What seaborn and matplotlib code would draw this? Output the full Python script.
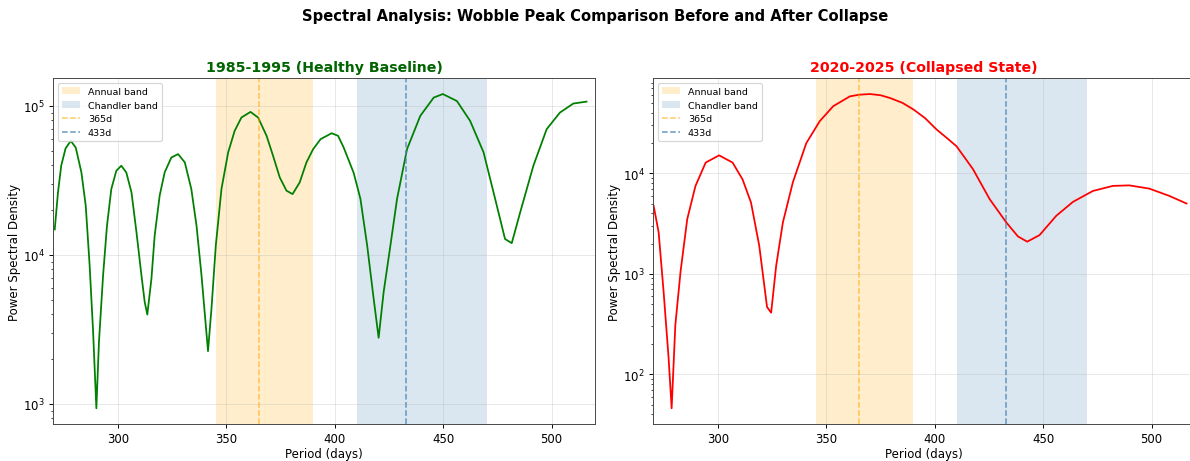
import numpy as np
import pandas as pd
import matplotlib
matplotlib.use("Agg")
import matplotlib.pyplot as plt
import seaborn as sns

# ---- data ----
healthy_period = [270.8, 272.3, 273.8, 275.8, 278.2, 280.5, 283.1, 285.1, 286.9, 288.5,
                  290.0, 291.2, 293.1, 294.9, 296.9, 299.2, 301.5, 303.8, 306.2, 308.5,
                  310.8, 312.3, 313.5, 315.4, 316.9, 319.2, 321.5, 324.6, 327.7, 330.8,
                  333.8, 336.2, 338.5, 341.5, 343.1, 345.1, 347.7, 350.8, 353.8, 356.9,
                  361.1, 364.6, 368.5, 371.5, 374.6, 377.7, 380.5, 383.8, 386.9, 390.0,
                  393.4, 398.5, 401.5, 404.1, 408.7, 411.8, 414.9, 417.9, 420.2, 422.5,
                  425.6, 428.7, 433.3, 439.4, 445.6, 449.8, 456.3, 462.4, 468.6, 473.2,
                  478.5, 481.6, 485.4, 491.6, 497.7, 503.8, 510.0, 516.1]
healthy_psd = [14830, 26300, 39800, 51900, 58300, 52500, 35800, 21400, 8510, 3050,
               935, 2610, 7290, 15700, 27700, 36700, 39700, 35800, 26300, 14200,
               7290, 4830, 3980, 6920, 13500, 25000, 35800, 45100, 47500, 41800,
               27700, 15700, 7290, 2260, 4370, 11600, 27700, 48800, 68100, 83600,
               91200, 83600, 63100, 46300, 33100, 27000, 25600, 30700, 41800, 51300,
               59800, 65600, 63000, 52500, 35500, 23800, 11600, 5090, 2780, 5620,
               11500, 23800, 51300, 85700, 113800, 120200, 107900, 79400, 48800, 26300,
               12800, 12000, 19100, 39800, 69800, 90200, 103800, 106900]

collapsed_period = [270.3, 272.6, 274.9, 277.2, 278.6, 280.3, 282.7, 285.8, 289.6, 294.3,
                    300.5, 306.7, 311.3, 315.2, 319.0, 322.6, 324.5, 326.8, 329.9, 334.5,
                    340.7, 346.9, 353.1, 360.8, 365.0, 370.1, 375.0, 379.4, 385.0, 390.2,
                    395.5, 400.8, 405.5, 410.0, 417.6, 425.3, 433.0, 438.3, 442.6, 448.3,
                    456.0, 463.7, 472.9, 482.1, 489.7, 498.9, 508.1, 516.1]
collapsed_psd = [4750, 2590, 661, 145, 46, 309, 1050, 3510, 7500, 12800,
                 15100, 12800, 8710, 5130, 1910, 468, 411, 1200, 3240, 8130,
                 19950, 33000, 46500, 58300, 60500, 61500, 59800, 56100, 50300, 43100,
                 35400, 27300, 22500, 18600, 11000, 5530, 3240, 2360, 2090, 2430,
                 3780, 5200, 6680, 7500, 7590, 7050, 5970, 5010]

annual_band = (345, 390)
chandler_band = (410, 470)
annual_period = 365
chandler_period = 433

panel_titles = ["1985-1995 (Healthy Baseline)", "2020-2025 (Collapsed State)"]
title_colors = ["darkgreen", "red"]
line_colors = ["green", "red"]
suptitle = "Spectral Analysis: Wobble Peak Comparison Before and After Collapse"

# ---- plotting ----
plt.rcParams['font.family'] = ['DejaVu Sans']

fig = plt.figure(figsize=(14, 5.435), dpi=85)
W, H = 1190, 462
ax1 = fig.add_axes([53 / W, 1 - 425 / H, 542 / W, (425 - 79.3) / H])
ax2 = fig.add_axes([653 / W, 1 - 425 / H, 542 / W, (425 - 79.3) / H])

datasets = [
    pd.DataFrame({"period": healthy_period, "psd": healthy_psd}),
    pd.DataFrame({"period": collapsed_period, "psd": collapsed_psd}),
]

for ax, df, ttl, tcol, lcol in zip([ax1, ax2], datasets, panel_titles, title_colors, line_colors):
    sns.lineplot(data=df, x="period", y="psd", ax=ax, color=lcol, linewidth=1.5)
    ax.set_yscale("log")
    ax.axvspan(*annual_band, color="orange", alpha=0.2, label="Annual band", lw=0)
    ax.axvspan(*chandler_band, color="steelblue", alpha=0.2, label="Chandler band", lw=0)
    ax.axvline(annual_period, color="orange", linestyle="--", alpha=0.6, lw=1.3, label=f"{annual_period}d")
    ax.axvline(chandler_period, color="steelblue", linestyle="--", alpha=0.8, lw=1.3, label=f"{chandler_period}d")
    ax.set_xlim(270, 520)
    ax.set_xlabel("Period (days)", fontsize=10, labelpad=1.5)
    ax.set_ylabel("Power Spectral Density", fontsize=10, labelpad=1.5)
    ax.set_title(ttl, color=tcol, fontweight="bold", fontsize=12)
    ax.grid(True, alpha=0.3)
    ax.tick_params(labelsize=10)
    for s in ax.spines.values():
        s.set_color("#444444")
    ax.legend(loc="upper left", fontsize=8, framealpha=0.8)

fig.suptitle(suptitle, fontsize=12.5, fontweight="bold", y=0.98)

fig.savefig("out.png", dpi=85)
